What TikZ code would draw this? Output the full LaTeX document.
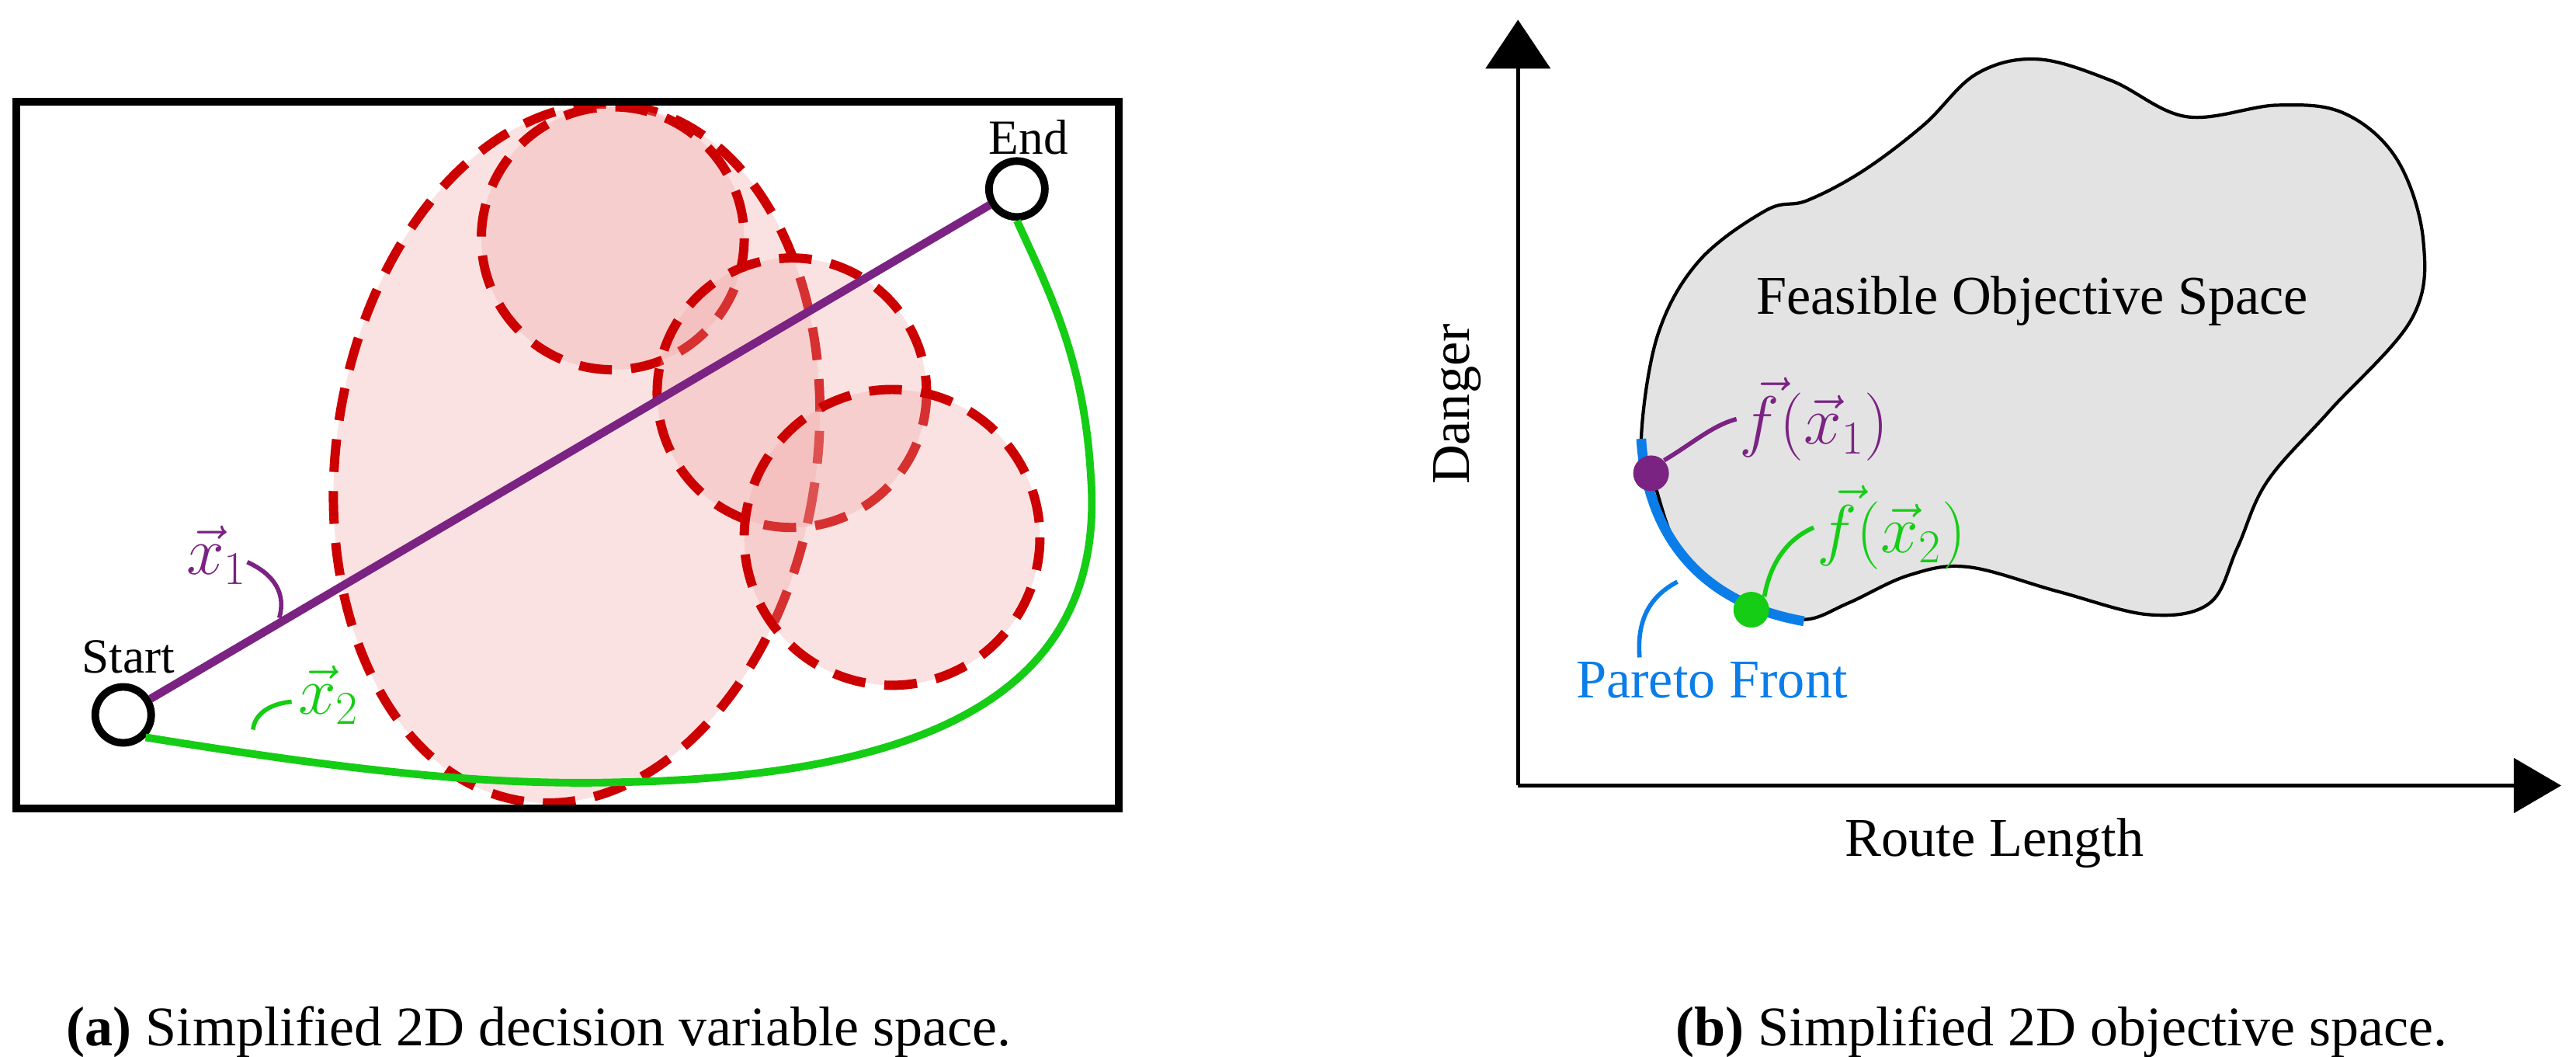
\documentclass[tikz,border=0pt]{standalone}
\usepackage{fontspec}
\setmainfont{Liberation Serif}
\usetikzlibrary{arrows.meta}
\definecolor{myred}{RGB}{204,0,0}
\definecolor{mypink}{RGB}{240,160,160}
\definecolor{mypurple}{RGB}{123,35,131}
\definecolor{mygreen}{RGB}{20,205,20}
\definecolor{myblue}{RGB}{10,125,232}
\definecolor{mygray}{RGB}{227,227,227}
\tikzset{
  zone/.style={draw=myred,fill=mypink,fill opacity=0.3,draw opacity=1,line width=3.4pt,dash pattern=on 12pt off 7pt},
  endpt/.style={circle,draw=black,line width=2.8pt,minimum size=0.72cm,inner sep=0pt},
  lbl/.style={font=\fontsize{18}{20}\selectfont,inner sep=1pt},
  mlbl/.style={font=\fontsize{24}{26}\selectfont,inner sep=1pt},
  hook/.style={line width=1.6pt},
}
\begin{document}
\begin{tikzpicture}[x=0.02116cm,y=-0.02116cm]
\useasboundingbox (0,0) rectangle (1568,643);
% left panel
\draw[zone] (351,276) ellipse[x radius=146,y radius=214,rotate=-9];
\draw[zone] (373,145) circle[radius=80];
\draw[zone] (482,239) circle[radius=82];
\draw[zone] (543,327) circle[radius=90];
\draw[line width=2.8pt] (10,62) rectangle (681,492);
\node[endpt] (start) at (75,435) {};
\node[endpt] (end) at (619,115) {};
\node[lbl,anchor=south] (starttxt) at (78,412) {Start};
\node[lbl,anchor=south] (endtxt) at (626,96) {End};
\draw[mypurple,line width=3pt] (start) -- (end);
\draw[mygreen,line width=2.8pt] (start.south east) .. controls (220,470) and (300,478) .. (376,476)
  .. controls (600,472) and (672,400) .. (664,290) .. controls (660,220) and (640,180) .. (end.south);
\node[mlbl,text=mypurple] (x1) at (132,338) {$\vec{x}_1$};
\coordinate (x1e) at (170,376);
\draw[mypurple,hook] (x1.east) ++(-2,4) .. controls (168,350) and (174,362) .. (x1e);
\node[mlbl,text=mygreen] (x2) at (200,423) {$\vec{x}_2$};
\coordinate (x2e) at (154,444);
\draw[mygreen,hook] (x2.west) ++(-2,4) .. controls (165,428) and (155,434) .. (x2e);
% right panel
\coordinate (O) at (924,478);
\coordinate (ytip) at (924,12);
\coordinate (xtip) at (1559,478);
\draw[line width=1.4pt,-{Triangle[length=0.63cm,width=0.83cm]}] (O) -- (ytip);
\draw[line width=1.4pt,-{Triangle[length=0.61cm,width=0.7cm]}] (O) -- (xtip);
\node[lbl,font=\fontsize{20}{22}\selectfont,rotate=90] (dangertxt) at (887,246) {Danger};
\node[lbl,font=\fontsize{20}{22}\selectfont] (routetxt) at (1214,513) {Route Length};
\draw[line width=1.2pt,fill=mygray] plot[smooth cycle,tension=0.6] coordinates {
 (999,267) (1009,204) (1034,159) (1075,128) (1100,122) (1134,104) (1171,76) (1203,45)
 (1240,36) (1285,49) (1331,71) (1386,64) (1427,69) (1459,97) (1475,146) (1468,194)
 (1418,250) (1380,293) (1362,333) (1345,367) (1308,374) (1253,360) (1198,345)
 (1162,350) (1125,367) (1098,377) (1066,369) (1025,340) (1006,291)};
\draw[myblue,line width=3.6pt] (999,267) .. controls (1002,320) and (1030,366) .. (1098,378);
\node[circle,fill=mypurple,minimum size=0.46cm,inner sep=0pt] (p1) at (1005,288) {};
\node[circle,fill=mygreen,minimum size=0.46cm,inner sep=0pt] (p2) at (1066,371) {};
\node[lbl,font=\fontsize{20}{22}\selectfont] (fos) at (1237,183) {Feasible Objective Space};
\node[mlbl,text=mypurple,anchor=west] (f1) at (1057,255) {$\vec{f}(\vec{x}_1)$};
\draw[mypurple,hook] (p1.north east) .. controls (1030,270) and (1042,259) .. (f1.west);
\node[mlbl,text=mygreen,anchor=west] (f2) at (1104,321) {$\vec{f}(\vec{x}_2)$};
\draw[mygreen,hook] (p2.north east) .. controls (1078,340) and (1090,327) .. (f2.west);
\node[lbl,font=\fontsize{20}{22}\selectfont,text=myblue] (pf) at (1042,414) {Pareto Front};
\coordinate (pfe) at (1021,354);
\coordinate (pfs) at (998,400);
\draw[myblue,hook] (pfs) .. controls (996,375) and (1006,362) .. (pfe);
% captions
\node[font=\fontsize{20.5}{22}\selectfont] (capa) at (328,628) {\textbf{(a)} Simplified 2D decision variable space.};
\node[font=\fontsize{20.5}{22}\selectfont] (capb) at (1255,628) {\textbf{(b)} Simplified 2D objective space.};
\end{tikzpicture}
\end{document}
